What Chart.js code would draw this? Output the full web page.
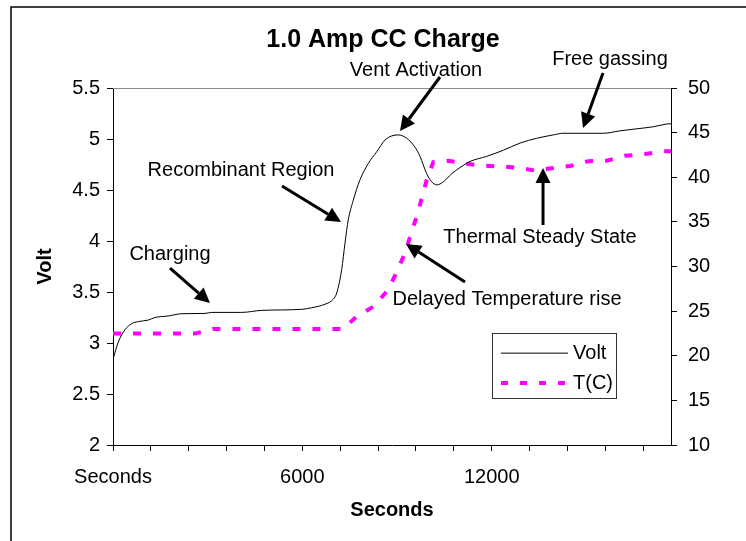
<!DOCTYPE html>
<html>
<head>
<meta charset="utf-8">
<script src="https://cdn.jsdelivr.net/npm/chart.js@4/dist/chart.umd.min.js"></script>
<style>
  html, body { margin: 0; padding: 0; background: #ffffff; }
  #wrap { width: 746px; height: 541px; position: relative; }
</style>
</head>
<body>
<div id="wrap"><canvas id="c" width="746" height="541"></canvas></div>
<script>
// ---- data (seconds) ----
const voltTime = [0, 168, 380, 592, 802, 1118, 1331, 1752, 2177, 2915, 3127, 4078, 4712, 5979, 6296, 6717, 6980, 7088, 7246, 7351, 7456, 7614, 7826, 8089, 8355, 8618, 8831, 9040, 9306, 9569, 9727, 9940, 10098, 10257, 10466, 10732, 10995, 11312, 11841, 12367, 12896, 13425, 13951, 14268, 15535, 16064, 16593, 17119, 17544, 17680];
const voltValues = [2.84, 3.01, 3.13, 3.19, 3.21, 3.225, 3.25, 3.265, 3.287, 3.29, 3.30, 3.30, 3.32, 3.33, 3.346, 3.38, 3.43, 3.49, 3.72, 3.98, 4.21, 4.40, 4.60, 4.76, 4.875, 4.99, 5.03, 5.04, 5.007, 4.92, 4.83, 4.66, 4.58, 4.55, 4.58, 4.66, 4.72, 4.78, 4.83, 4.89, 4.96, 5.007, 5.04, 5.056, 5.056, 5.08, 5.10, 5.12, 5.147, 5.15];

const tempTime = [0, 2598, 2978, 3168, 7288, 7722, 8248, 8723, 8989, 9252, 9410, 9623, 9781, 9940, 10149, 10624, 11207, 11733, 12367, 12950, 13371, 13900, 14480, 15060, 15643, 16223, 16857, 17436, 17680];
const tempValues = [22.5, 22.5, 22.8, 23.0, 23.0, 24.4, 25.5, 27.4, 29.4, 31.5, 33.3, 35.6, 37.6, 39.7, 41.7, 41.85, 41.5, 41.3, 41.2, 41.0, 40.75, 41.0, 41.26, 41.8, 41.85, 42.4, 42.6, 42.9, 42.9];

const xTickValues = [0, 1200, 2400, 3600, 4800, 6000, 7200, 8400, 9600, 10800, 12000, 13200, 14400, 15600, 16800];
const xLabelValues = [0, 6000, 12000];
const xLabelTexts = ['Seconds', '6000', '12000'];
const seriesNames = ['Volt', 'T(C)'];

const titleText = '1.0 Amp CC Charge';
const xTitle = 'Seconds';
const yTitle = 'Volt';

// annotations (in data units: seconds / volts)
const annotations = [
  { text: 'Charging',                 tx: 1806,  ty: 3.863, ax: 1806,  ay: 3.735, bx: 3073,  by: 3.392 },
  { text: 'Recombinant Region',       tx: 4056,  ty: 4.696, ax: 5355,  ay: 4.539, bx: 7224,  by: 4.186 },
  { text: 'Vent Activation',          tx: 9601,  ty: 5.676, ax: 10361, ay: 5.608, bx: 9094,  by: 5.078 },
  { text: 'Free gassing',             tx: 15747, ty: 5.784, ax: 15526, ay: 5.647, bx: 14892, by: 5.108 },
  { text: 'Thermal Steady State',     tx: 13530, ty: 4.039, ax: 13625, ay: 4.157, bx: 13625, by: 4.716 },
  { text: 'Delayed Temperature rise', tx: 12484, ty: 3.422, ax: 11153, ay: 3.598, bx: 9284,  by: 3.971 }
];

const FONT = 'Liberation Sans, Arial, sans-serif';
const MAGENTA = '#ff00ff';

const voltData = voltTime.map((t, i) => ({ x: t, y: voltValues[i] }));
const tempData = tempTime.map((t, i) => ({ x: t, y: tempValues[i] }));

function drawArrow(ctx, x1, y1, x2, y2) {
  const ang = Math.atan2(y2 - y1, x2 - x1);
  const headLen = 15, headW = 7.5;
  const bx = x2 - headLen * Math.cos(ang), by = y2 - headLen * Math.sin(ang);
  ctx.beginPath();
  ctx.moveTo(x1, y1);
  ctx.lineTo(bx, by);
  ctx.lineWidth = 3;
  ctx.strokeStyle = '#000';
  ctx.stroke();
  ctx.beginPath();
  ctx.moveTo(x2, y2);
  ctx.lineTo(bx + headW * Math.sin(ang), by - headW * Math.cos(ang));
  ctx.lineTo(bx - headW * Math.sin(ang), by + headW * Math.cos(ang));
  ctx.closePath();
  ctx.fillStyle = '#000';
  ctx.fill();
}

const decor = {
  id: 'decor',
  beforeDatasetsDraw(chart) {
    const { ctx, chartArea: a } = chart;
    ctx.save();
    ctx.strokeStyle = '#8c8c8c';
    ctx.lineWidth = 1;
    ctx.beginPath();
    ctx.moveTo(a.left, a.top + 0.5);
    ctx.lineTo(a.right, a.top + 0.5);
    ctx.stroke();
    ctx.restore();
  },
  afterDraw(chart) {
    const { ctx, scales } = chart;
    const xs = scales.x, ys = scales.y;
    ctx.save();
    // outer frame
    ctx.strokeStyle = '#000';
    ctx.lineWidth = 1.5;
    ctx.beginPath();
    ctx.moveTo(11, 545);
    ctx.lineTo(11, 7);
    ctx.lineTo(750, 7);
    ctx.stroke();

    // annotations
    ctx.font = '20px ' + FONT;
    ctx.fillStyle = '#000';
    ctx.textAlign = 'center';
    ctx.textBaseline = 'middle';
    annotations.forEach(an => {
      ctx.fillText(an.text, xs.getPixelForValue(an.tx), ys.getPixelForValue(an.ty));
      drawArrow(ctx, xs.getPixelForValue(an.ax), ys.getPixelForValue(an.ay),
                     xs.getPixelForValue(an.bx), ys.getPixelForValue(an.by));
    });

    // legend box
    const lx1 = xs.getPixelForValue(12009), ly1 = ys.getPixelForValue(3.098);
    const lx2 = xs.getPixelForValue(15937), ly2 = ys.getPixelForValue(2.461);
    ctx.fillStyle = '#fff';
    ctx.fillRect(lx1, ly1, lx2 - lx1, ly2 - ly1);
    ctx.strokeStyle = '#333';
    ctx.lineWidth = 1;
    ctx.strokeRect(Math.round(lx1) + 0.5, Math.round(ly1) + 0.5, Math.round(lx2 - lx1), Math.round(ly2 - ly1));
    const row1 = ly1 + (ly2 - ly1) * 0.31, row2 = ly1 + (ly2 - ly1) * 0.77;
    ctx.beginPath();
    ctx.moveTo(lx1 + 9, row1); ctx.lineTo(lx1 + 76, row1);
    ctx.strokeStyle = '#000'; ctx.lineWidth = 1; ctx.stroke();
    ctx.beginPath();
    ctx.setLineDash([7, 12]);
    ctx.moveTo(lx1 + 9, row2); ctx.lineTo(lx1 + 78, row2);
    ctx.strokeStyle = MAGENTA; ctx.lineWidth = 4; ctx.stroke();
    ctx.setLineDash([]);
    ctx.fillStyle = '#000';
    ctx.font = '20px ' + FONT;
    ctx.textAlign = 'left';
    ctx.fillText(seriesNames[0], lx1 + 81, row1);
    ctx.fillText(seriesNames[1], lx1 + 81, row2);
    ctx.restore();
  }
};

new Chart(document.getElementById('c'), {
  type: 'line',
  data: {
    datasets: [
      { label: seriesNames[0], data: voltData, yAxisID: 'y', borderColor: '#000', borderWidth: 1,
        pointRadius: 0, cubicInterpolationMode: 'monotone', fill: false },
      { label: seriesNames[1], data: tempData, yAxisID: 'y1', borderColor: MAGENTA, borderWidth: 4,
        borderDash: [8, 12], pointRadius: 0, tension: 0, fill: false }
    ]
  },
  options: {
    responsive: false,
    animation: false,
    devicePixelRatio: 1,
    layout: { padding: { left: 20, right: 0, top: 0, bottom: 0 } },
    plugins: {
      legend: { display: false },
      tooltip: { enabled: false },
      title: {
        display: true, text: titleText, color: '#000',
        font: { family: FONT, size: 25, weight: 'bold', lineHeight: 1.2 },
        padding: { top: 25, bottom: 33 }
      }
    },
    scales: {
      x: {
        type: 'linear', min: 0, max: 17680,
        afterFit(s) { s.height = 96; },
        afterBuildTicks(s) { s.ticks = xTickValues.map(v => ({ value: v })); },
        grid: { drawOnChartArea: false, drawTicks: true, tickLength: 6, color: '#000' },
        border: { display: true, color: '#000', width: 1 },
        ticks: {
          autoSkip: false, maxRotation: 0, color: '#000', padding: 14,
          font: { family: FONT, size: 20 },
          callback(v) { const i = xLabelValues.indexOf(v); return i >= 0 ? xLabelTexts[i] : ''; }
        },
        title: { display: true, text: xTitle, color: '#000', font: { family: FONT, size: 20, weight: 'bold' }, padding: { top: 0, bottom: 19 } }
      },
      y: {
        position: 'left', min: 2, max: 5.5,
        afterFit(s) { s.width = 93; },
        grid: { drawOnChartArea: false, drawTicks: true, tickLength: 6, color: '#000' },
        border: { display: true, color: '#000', width: 1 },
        ticks: { stepSize: 0.5, color: '#000', padding: 7, font: { family: FONT, size: 20 },
          callback(v) { return String(Math.round(v * 10) / 10); } },
        title: { display: true, text: yTitle, color: '#000', font: { family: FONT, size: 20, weight: 'bold' }, padding: { top: 13, bottom: 0 } }
      },
      y1: {
        position: 'right', min: 10, max: 50,
        afterFit(s) { s.width = 75; },
        grid: { drawOnChartArea: false, drawTicks: true, tickLength: 6, color: '#000' },
        border: { display: true, color: '#000', width: 1 },
        ticks: { stepSize: 5, color: '#000', padding: 11, font: { family: FONT, size: 20 } }
      }
    }
  },
  plugins: [decor]
});
</script>
</body>
</html>
